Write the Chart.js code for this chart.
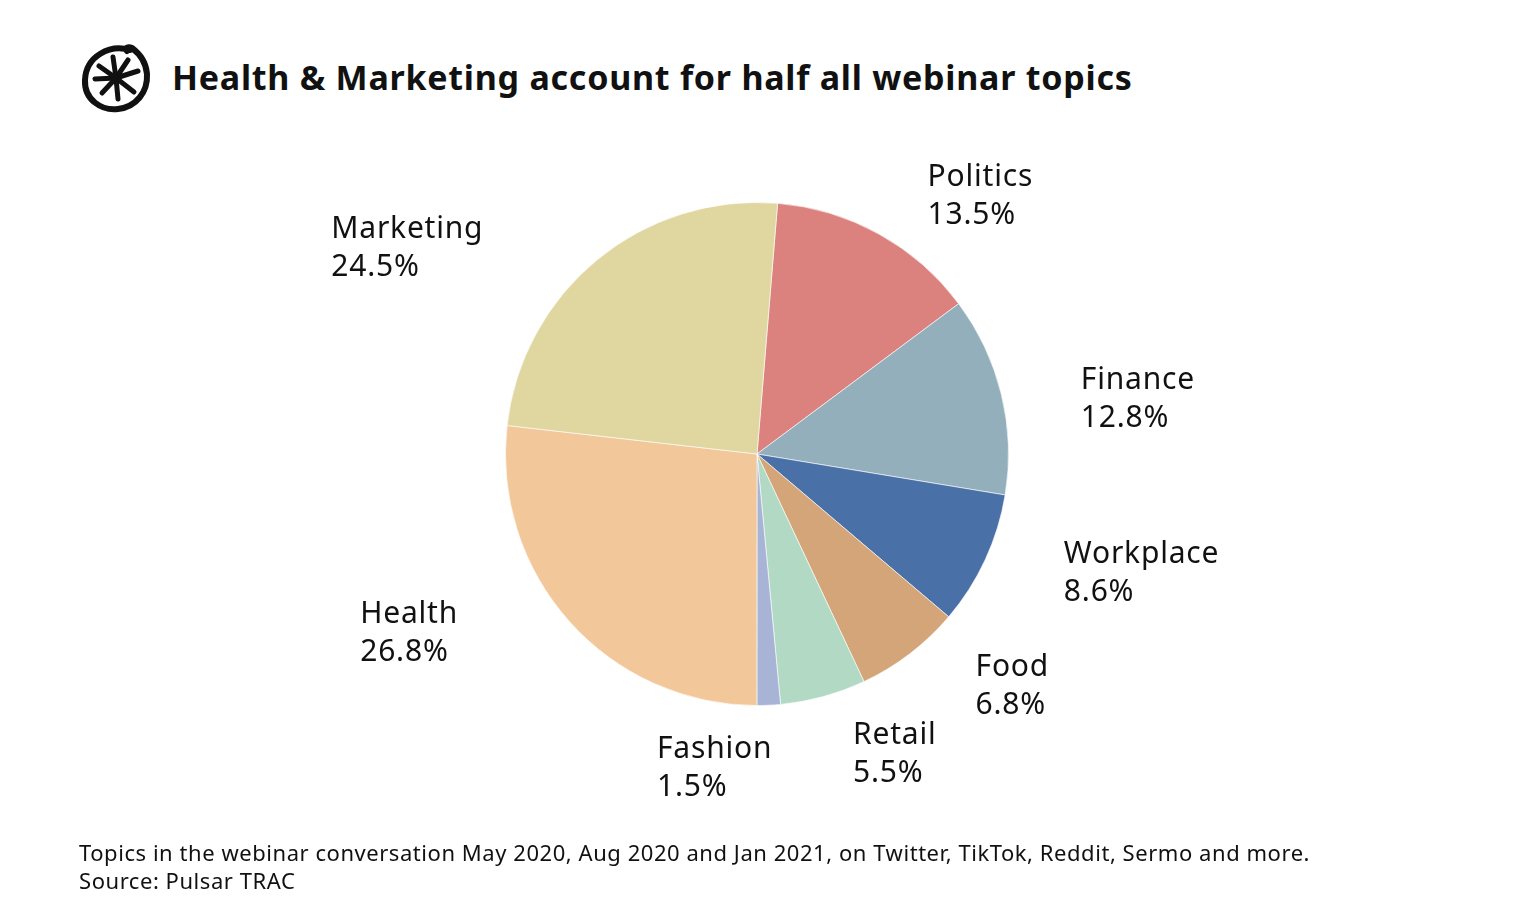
<!DOCTYPE html>
<html>
<head>
<meta charset="utf-8">
<script src="https://cdn.jsdelivr.net/npm/chart.js@4"></script>
<style>
  html, body { margin: 0; padding: 0; background: #fff; }
  body { width: 1536px; height: 922px; position: relative; overflow: hidden; font-family: "Noto Sans", sans-serif; }
  #logo { position: absolute; left: 80px; top: 42px; }
  #title { position: absolute; left: 172px; top: 54px; font-family: "Noto Sans", sans-serif; font-weight: 700; font-size: 34px; letter-spacing: 0.75px; color: #111; white-space: nowrap; }
  #wrap { position: absolute; left: 0; top: 0; width: 1536px; height: 922px; }
  #foot { position: absolute; left: 79px; top: 838px; font-size: 22px; letter-spacing: 0.55px; line-height: 28px; color: #111; white-space: nowrap; }
</style>
</head>
<body>
<svg id="logo" width="72" height="72" viewBox="0 0 72 72">
  <path d="M50 8 C30 2 6 14 5 38 C4 58 22 69 38 67 C56 65 68 50 67 32 C66 20 60 12 52 6 C48 4 45 6 47 9"
        fill="none" stroke="#111" stroke-width="6" stroke-linecap="round"/>
  <g stroke="#111" stroke-width="5" stroke-linecap="round">
    <line x1="36" y1="36" x2="33" y2="15"/>
    <line x1="36" y1="36" x2="48" y2="18"/>
    <line x1="36" y1="36" x2="58" y2="29"/>
    <line x1="36" y1="36" x2="54" y2="50"/>
    <line x1="36" y1="36" x2="38" y2="57"/>
    <line x1="36" y1="36" x2="22" y2="51"/>
    <line x1="36" y1="36" x2="15" y2="37"/>
    <line x1="36" y1="36" x2="19" y2="24"/>
  </g>
</svg>
<div id="title">Health &amp; Marketing account for half all webinar topics</div>
<div id="wrap"><canvas id="myChart"></canvas></div>
<div id="foot">Topics in the webinar conversation May 2020, Aug 2020 and Jan 2021, on Twitter, TikTok, Reddit, Sermo and more.<br>Source: Pulsar TRAC</div>
<script>
var topics = ['Politics', 'Finance', 'Workplace', 'Food', 'Retail', 'Fashion', 'Health', 'Marketing'];
var shares = [13.5, 12.8, 8.6, 6.8, 5.5, 1.5, 26.8, 24.5];
var colours = ['#dc827e', '#92afbb', '#4a70a8', '#d3a579', '#b1d9c3', '#a8b4d6', '#f2c799', '#e0d6a0'];

// nudges for the outside labels, relative to a point just outside each slice
var labelNudge = [[5, 22], [-8, 7], [-3, -43], [11, -58], [6, -48], [-116, -46], [-142, -67], [-209, 39]];

var outsideLabels = {
  id: 'outsideLabels',
  afterDraw: function(chart) {
    var ctx = chart.ctx;
    var arcs = chart.getDatasetMeta(0).data;
    ctx.save();
    ctx.font = '30px "Noto Sans"';
    ctx.letterSpacing = '0.8px';
    ctx.fillStyle = '#111';
    ctx.textAlign = 'left';
    ctx.textBaseline = 'middle';
    for (var i = 0; i < arcs.length; i++) {
      var a = arcs[i];
      var mid = (a.startAngle + a.endAngle) / 2;
      var d = a.outerRadius + 90;
      var x = a.x + d * Math.cos(mid) + labelNudge[i][0];
      var y = a.y + d * Math.sin(mid) + labelNudge[i][1];
      ctx.fillText(topics[i], x, y);
      ctx.fillText(shares[i].toFixed(1) + '%', x, y + 38);
    }
    ctx.restore();
  }
};

var ctx = document.getElementById('myChart').getContext('2d');
var myChart = new Chart(ctx, {
  type: 'pie',
  data: {
    labels: topics,
    datasets: [{
      data: shares,
      backgroundColor: colours,
      borderColor: 'rgba(255,255,255,0.6)',
      borderWidth: 1
    }]
  },
  options: {
    responsive: true,
    maintainAspectRatio: false,
    animation: false,
    rotation: 4.7,
    layout: { padding: { left: 505, right: 527, top: 202, bottom: 216 } },
    plugins: {
      legend: { display: false },
      tooltip: { enabled: false }
    }
  },
  plugins: [outsideLabels]
});
</script>
</body>
</html>
